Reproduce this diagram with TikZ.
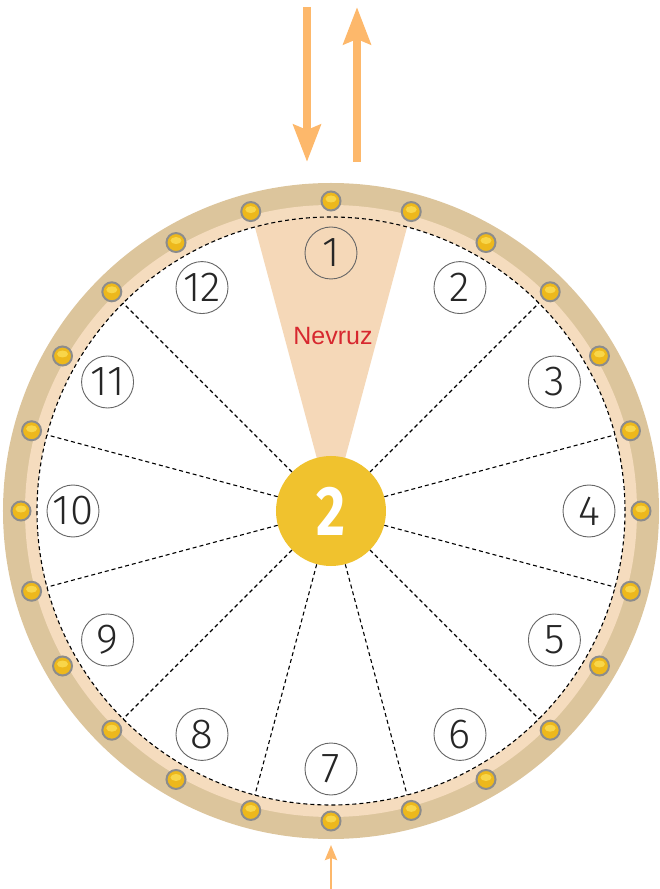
\documentclass[tikz,border=0pt]{standalone}
\usepackage{fontspec}
\setmainfont{Liberation Sans}
\newfontfamily\numfont{Fira Sans Light}
\newfontfamily\hubfont{Fira Sans}
\usetikzlibrary{arrows.meta}
\definecolor{banddark}{HTML}{DCC59C}
\definecolor{bandlight}{HTML}{F5DCBE}
\definecolor{wedgecol}{HTML}{F5D8B8}
\definecolor{hubyellow}{HTML}{F0C22E}
\definecolor{dotyellow}{HTML}{EDB81C}
\definecolor{dothigh}{HTML}{F8D64A}
\definecolor{dotrim}{HTML}{8C8C8C}
\definecolor{arrowcol}{HTML}{FDB86B}
\definecolor{nevred}{HTML}{D7282F}
\definecolor{ringgray}{HTML}{666666}
\begin{document}
\begin{tikzpicture}[x=1pt,y=1pt,
  numcircle/.style={circle, draw=ringgray, line width=0.9pt, minimum size=52pt, inner sep=0pt,
    font=\numfont\fontsize{42}{42}\selectfont, text=black!85},
  hubnode/.style={circle, fill=hubyellow, minimum size=110pt, inner sep=0pt},
  divider/.style={dashed, dash pattern=on 4pt off 3pt, line width=1.1pt, black},
  bigarrow/.style={arrowcol, line width=8pt, -{Stealth[length=37pt, width=27pt, inset=5pt]}},
  smallarrow/.style={arrowcol, line width=2.5pt, -{Stealth[length=15pt, width=12pt, inset=2pt]}},
  bead/.style={circle, fill=dotyellow, draw=dotrim, line width=2pt, minimum size=19pt, inner sep=0pt}
]
\useasboundingbox (-331,-378) rectangle (328,511);
% rim bands
\fill[banddark] (0,0) circle (328);
\fill[bandlight] (0,0) circle (306);
\fill[white] (0,0) circle (294);
% Nevruz wedge
\fill[wedgecol] (0,0) -- (75:294) arc (75:105:294) -- cycle;
% dashed rim circle
\draw[divider] (0,0) circle (294);
% hub
\node[hubnode] (hub) at (0,0) {};
% dividers
\foreach \a in {15,45,135,165,195,225,255,285,315,345} {
  \coordinate (e\a) at (\a:294);
  \draw[divider] (hub.\a) -- (e\a);
}
\node[text=white, font=\hubfont\bfseries\fontsize{70}{70}\selectfont] (hubtext) at (hub.center) {\scalebox{0.8}[1]{2}};
% beads
\foreach \k in {0,...,23} {
  \pgfmathsetmacro{\ang}{90+15*\k}
  \node[bead] (b\k) at (\ang:310) {};
  \fill[dothigh] ([yshift=2pt]b\k.center) ellipse (5.5pt and 3.5pt);
}
% numbers
\foreach \k in {1,...,12} {
  \pgfmathsetmacro{\ang}{90-30*(\k-1)}
  \node[numcircle] (n\k) at (\ang:258) {\k};
}
% Nevruz label
\node[text=nevred, font=\fontsize{25}{25}\selectfont] (nevruz) at (2,175) {Nevruz};
% arrows
\coordinate (dstart) at (-24,504);
\coordinate (dend) at (-24,349);
\coordinate (ustart) at (26,349);
\coordinate (uend) at (26,504);
\draw[bigarrow] (dstart) -- (dend);
\draw[bigarrow] (ustart) -- (uend);
\coordinate (sstart) at (0,-378);
\coordinate (send) at (0,-334);
\draw[smallarrow] (sstart) -- (send);
\end{tikzpicture}
\end{document}
